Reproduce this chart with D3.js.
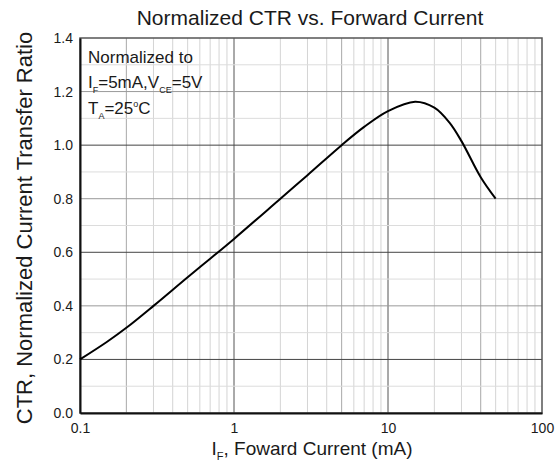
<!DOCTYPE html>
<html>
<head>
<meta charset="utf-8">
<script src="https://cdn.jsdelivr.net/npm/d3@7"></script>
<style>
  body { margin: 0; background: #fff; }
  text { font-family: "Liberation Sans", Arial, sans-serif; fill: #1a1a1a; }
</style>
</head>
<body>
<script>
// chart data
var current = [0.1, 0.15, 0.2, 0.3, 0.5, 0.7, 1, 2, 3, 5, 7, 10, 15, 20, 25, 30, 40, 50];
var ctr     = [0.200, 0.266, 0.318, 0.400, 0.507, 0.576, 0.650, 0.800, 0.888, 1.000, 1.068, 1.127, 1.162, 1.140, 1.085, 1.015, 0.880, 0.800];
var xTicks = [0.1, 1, 10, 100];
var yTicks = [0, 0.2, 0.4, 0.6, 0.8, 1.0, 1.2, 1.4];
var yMinor = [0.1, 0.3, 0.5, 0.7, 0.9, 1.1, 1.3];

var w = 559;
var h = 465;
var svg = d3.select("body").append("svg")
    .attr("width", w)
    .attr("height", h);

var x = d3.scaleLog().domain([0.1, 100]).range([80, 542]);
var y = d3.scaleLinear().domain([0, 1.4]).range([413, 38]);

// vertical grid (log minors)
var vLines = x.ticks().filter(function(d) { return d > 0.1 && d < 100; });
svg.append("g").selectAll("line")
    .data(vLines)
    .enter().append("line")
    .attr("x1", function(d) { return x(d); })
    .attr("x2", function(d) { return x(d); })
    .attr("y1", y(0))
    .attr("y2", y(1.4))
    .attr("stroke", function(d) {
        var m = Math.round(d / Math.pow(10, Math.floor(Math.log10(d) + 1e-9)));
        if (m === 1) return "#555";
        if (d === 0.2 || d === 5 || d === 40) return "#a8a8a8";
        return "#d4d4d4";
    })
    .attr("stroke-width", 1);

// horizontal grid
svg.append("g").selectAll("line")
    .data(yMinor)
    .enter().append("line")
    .attr("x1", x(0.1)).attr("x2", x(100))
    .attr("y1", function(d) { return y(d); })
    .attr("y2", function(d) { return y(d); })
    .attr("stroke", "#dcdcdc");

svg.append("g").selectAll("line")
    .data(yTicks.filter(function(d) { return d > 0 && d < 1.4; }))
    .enter().append("line")
    .attr("x1", x(0.1)).attr("x2", x(100))
    .attr("y1", function(d) { return y(d); })
    .attr("y2", function(d) { return y(d); })
    .attr("stroke", function(d, i) { return i % 2 === 0 ? "#444" : "#999"; });

// frame
svg.append("rect")
    .attr("x", x(0.1))
    .attr("y", y(1.4))
    .attr("width", x(100) - x(0.1))
    .attr("height", y(0) - y(1.4))
    .attr("fill", "none")
    .attr("stroke", "#555")
    .attr("stroke-width", 1.5);

// axes
var xAxis = svg.append("g")
    .attr("transform", "translate(0," + y(0) + ")")
    .call(d3.axisBottom(x).tickValues(xTicks).tickSize(0).tickPadding(10)
        .tickFormat(function(d) { return String(d); }));
xAxis.select(".domain").attr("stroke", "#111").attr("stroke-width", 2);
xAxis.selectAll("text").attr("font-size", 14).attr("font-family", null);

var yAxis = svg.append("g")
    .attr("transform", "translate(" + x(0.1) + ",0)")
    .call(d3.axisLeft(y).tickValues(yTicks).tickSize(0).tickPadding(7)
        .tickFormat(d3.format(".1f")));
yAxis.select(".domain").attr("stroke", "#111").attr("stroke-width", 2);
yAxis.selectAll("text").attr("font-size", 14).attr("font-family", null);

// curve
var line = d3.line()
    .x(function(d) { return x(d[0]); })
    .y(function(d) { return y(d[1]); })
    .curve(d3.curveCatmullRom.alpha(0.5));

svg.append("path")
    .datum(d3.zip(current, ctr))
    .attr("d", line)
    .attr("fill", "none")
    .attr("stroke", "#000")
    .attr("stroke-width", 2);

// title
svg.append("text")
    .attr("x", 310)
    .attr("y", 25)
    .attr("text-anchor", "middle")
    .attr("font-size", 21)
    .text("Normalized CTR vs. Forward Current");

// x label
var xl = svg.append("text")
    .attr("x", 312)
    .attr("y", 455)
    .attr("text-anchor", "middle")
    .attr("font-size", 19);
xl.append("tspan").text("I");
xl.append("tspan").attr("font-size", 11).attr("dy", 5).text("F");
xl.append("tspan").attr("dy", -5).text(", Foward Current (mA)");

// y label
svg.append("text")
    .attr("transform", "translate(32,228) rotate(-90)")
    .attr("text-anchor", "middle")
    .attr("font-size", 22)
    .text("CTR, Normalized Current Transfer Ratio");

// note in the corner
var note = svg.append("g").attr("font-size", 17);
note.append("text").attr("x", 88).attr("y", 63).text("Normalized to");
var n2 = note.append("text").attr("x", 88).attr("y", 88);
n2.append("tspan").text("I");
n2.append("tspan").attr("font-size", 9).attr("dy", 5).text("F");
n2.append("tspan").attr("dy", -5).text("=5mA,V");
n2.append("tspan").attr("font-size", 9).attr("dy", 5).text("CE");
n2.append("tspan").attr("dy", -5).text("=5V");
var n3 = note.append("text").attr("x", 88).attr("y", 114);
n3.append("tspan").text("T");
n3.append("tspan").attr("font-size", 9).attr("dy", 5).text("A");
n3.append("tspan").attr("dy", -5).text("=25");
n3.append("tspan").attr("font-size", 9).attr("dy", -7).text("o");
n3.append("tspan").attr("dy", 7).text("C");
</script>
</body>
</html>
